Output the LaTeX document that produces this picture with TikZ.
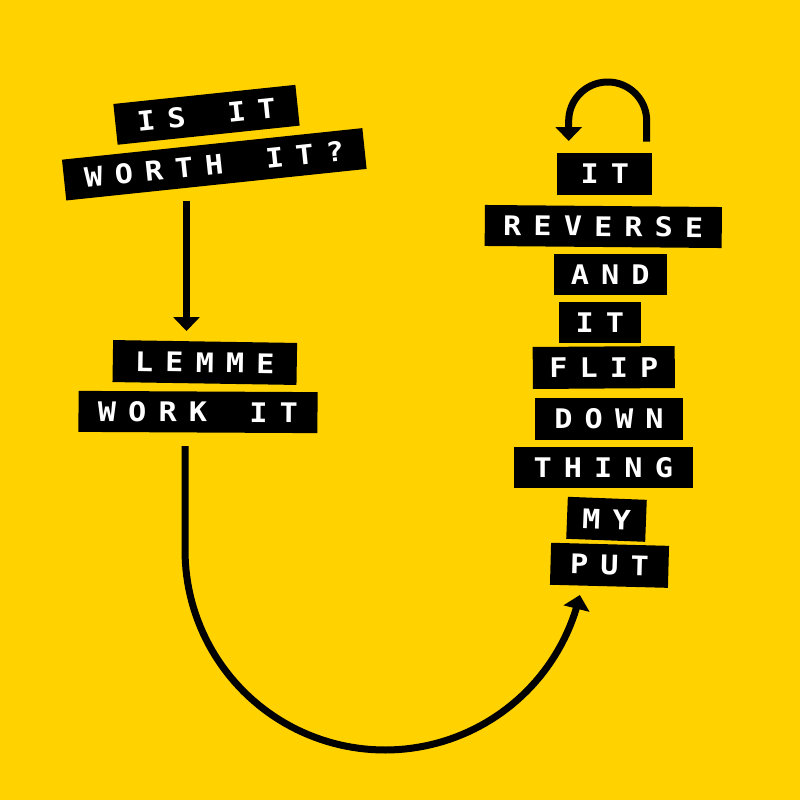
\documentclass[tikz,border=0pt]{standalone}
\usepackage{fontspec}
\newfontfamily\lblfont[FakeStretch=1.12]{DejaVu Sans Mono Bold}
\usetikzlibrary{arrows.meta}
\definecolor{bgyellow}{HTML}{FFD200}
\ExplSyntaxOn
\NewDocumentCommand\spc{m}{\str_map_inline:nn{#1}{\makebox[30.3pt][c]{##1}}}
\ExplSyntaxOff
\tikzset{
  lab/.style={fill=black, text=white, font=\lblfont\fontsize{27}{27}\selectfont,
    inner sep=0pt, minimum height=41pt},
  conn/.style={line width=7pt, -{Triangle[width=26pt,length=14pt]}},
}
\begin{document}
\begin{tikzpicture}[x=1pt,y=-1pt]
\useasboundingbox (0,0) rectangle (800,800);
\fill[bgyellow] (0,0) rectangle (800,800);

% left column
\node[lab, minimum width=183pt, rotate=6] (isit) at (206.5,114.8) {\spc{IS IT}};
\node[lab, minimum width=302pt, rotate=6] (worth) at (214.3,164.3) {\spc{WORTH IT?}};
\node[lab, minimum width=184pt, minimum height=42pt, rotate=-0.9] (lemme) at (204.8,362.5) {\spc{LEMME}};
\node[lab, minimum width=239pt, rotate=-0.3] (work) at (198,412) {\spc{WORK IT}};

% right column
\node[lab, minimum width=95pt, minimum height=42pt] (it1) at (604.8,173.8) {\spc{IT}};
\node[lab, minimum width=237pt, rotate=-0.5] (reverse) at (603.3,226.5) {\spc{REVERSE}};
\node[lab, minimum width=113pt] (and) at (610.3,274.8) {\spc{AND}};
\node[lab, minimum width=82pt] (it2) at (599.8,322.5) {\spc{IT}};
\node[lab, minimum width=142pt, minimum height=42pt, rotate=0.4] (flip) at (603.8,367.5) {\spc{FLIP}};
\node[lab, minimum width=148pt, minimum height=42pt] (down) at (609,418.8) {\spc{DOWN}};
\node[lab, minimum width=178.5pt] (thing) at (603.3,467.5) {\spc{THING}};
\node[lab, minimum width=79pt, minimum height=42pt, rotate=-2.2] (my) at (606.5,519.3) {\spc{MY}};
\node[lab, minimum width=118pt, minimum height=42pt, rotate=-1.5] (put) at (609.5,565.3) {\spc{PUT}};

% straight arrow
\coordinate (a1s) at (186.5,201);
\coordinate (a1e) at (186.5,331);
\draw[conn] (a1s) -- (a1e);

% big U arrow
\coordinate (c1) at (185,446);
\draw[conn, line join=round] (c1) -- (185,550)
  -- plot[domain=180:347, samples=90] ({385+200*cos(\x)},{550-200*sin(\x)})
  coordinate (c2);

% loop arrow
\coordinate (l1) at (646.7,141.7);
\coordinate (l2) at (568.7,141);
\draw[conn, line join=round] (l1) -- (646.7,121)
  -- plot[domain=0:180, samples=60] ({607.7+39*cos(\x)},{121-39*sin(\x)}) -- (l2);
\end{tikzpicture}
\end{document}
